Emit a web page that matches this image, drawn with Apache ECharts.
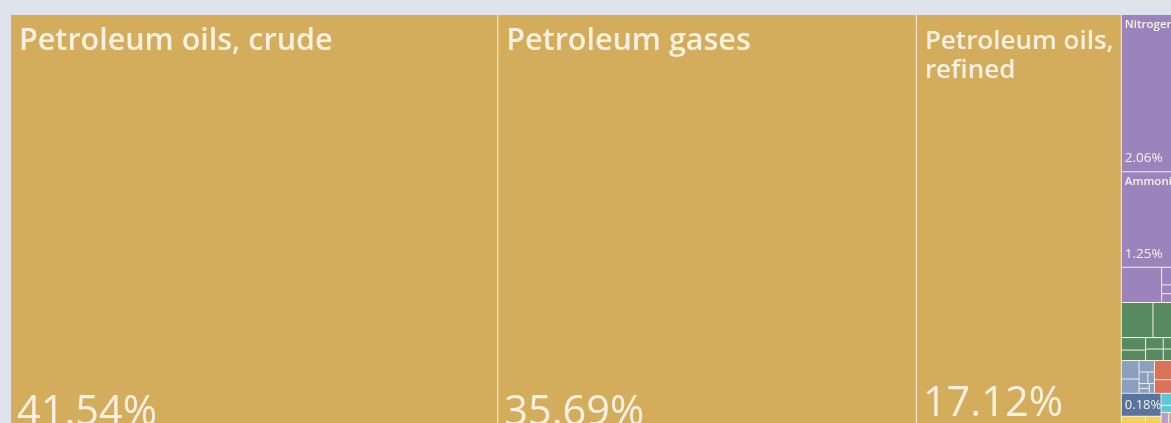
<!DOCTYPE html>
<html>
<head>
    <meta charset="utf-8"/>
    <title>Export treemap</title>
    <script src="https://cdn.jsdelivr.net/npm/echarts@6/dist/echarts.min.js"></script>
    <style>
        html, body { margin: 0; padding: 0; background: #dfe3ec; }
        #chart { width: 1171px; height: 423px; }
    </style>
</head>
<body>
<div id="chart"></div>
<script type="text/javascript">
    // share of total exports, %, by section
    const mineralNames = ['Petroleum oils, crude', 'Petroleum gases', 'Petroleum oils, refined'];
    const mineralValues = [41.54, 35.69, 17.12, 0.2, 0.15];

    const chemicalNames = ['Nitrogenous fertilizers', 'Ammonia'];
    const chemicalValues = [2.06, 1.25, 0.28, 0.05, 0.04, 0.03, 0.03, 0.02, 0.01];

    const vegetableTopValues = [0.22, 0.24];
    const vegetableSmallValues = [0.06, 0.05, 0.04, 0.04, 0.03, 0.03, 0.02, 0.02, 0.01];
    const metalValues = [0.065, 0.05, 0.035, 0.02, 0.015, 0.01, 0.01, 0.01];
    const plasticValues = [0.07, 0.05, 0.035, 0.025, 0.02, 0.015];
    const machineValues = [0.18];
    const foodValues = [0.14, 0.05, 0.02, 0.01, 0.01];
    const transportValues = [0.05, 0.03, 0.02];
    const textileValues = [0.03, 0.02];
    const stoneValues = [0.06, 0.04, 0.023];

    const TEXT = '#f8f1e3';
    const FONT = '"Open Sans", sans-serif';
    const pctAlsoShown = ['Machines 1'];

    function named(prefix, values, names) {
        return values.map(function (v, i) {
            return {name: (names && names[i]) || prefix + ' ' + (i + 1), value: v};
        });
    }

    const sections = [
        {name: 'Mineral products', color: '#d3ad5b', children: named('Minerals', mineralValues, mineralNames)},
        {name: 'Chemical products', color: '#9b84bc', children: named('Chemicals', chemicalValues, chemicalNames)},
        {name: 'Vegetable products', color: '#578a60',
            children: [
                {name: 'Fruits', children: named('Fruits', vegetableTopValues)},
                {name: 'Other vegetable', children: named('Vegetables', vegetableSmallValues)}
            ]},
        {name: 'Metals', color: '#8b9fc1', children: named('Metals', metalValues)},
        {name: 'Plastics and rubbers', color: '#d9725a', children: named('Plastics', plasticValues)},
        {name: 'Machines', color: '#56749d', children: named('Machines', machineValues)},
        {name: 'Foodstuffs', color: '#f6cf57', children: named('Foodstuffs', foodValues)},
        {name: 'Transportation', color: '#5fc6d5', children: named('Transport', transportValues)},
        {name: 'Textiles', color: '#b19fd4', children: named('Textiles', textileValues)},
        {name: 'Stone and glass', color: '#c4ad86', children: named('Stone', stoneValues)}
    ];

    function leafLabel(kind, node) {
        const v = node.value;
        if (kind === 'name') {
            if (v >= 30) return {show: true, fontSize: 30.5, lineHeight: 29, padding: [12, 1, 0, 8], overflow: 'break'};
            if (v >= 10) return {show: true, fontSize: 26, lineHeight: 29, padding: [12, 0, 0, 8], overflow: 'break'};
            if (v >= 1) return {show: true, fontSize: 11.5, lineHeight: 13, padding: [3, 1, 0, 3], overflow: 'truncate', ellipsis: ' '};
            return {show: false};
        }
        if (v >= 10) return {show: true, fontSize: 41.5, lineHeight: 42, padding: [0, 0, 11, 6]};
        if (v >= 1) return {show: true, fontSize: 13.5, lineHeight: 14, padding: [0, 0, 6, 3]};
        if (pctAlsoShown.indexOf(node.name) >= 0) return {show: true, fontSize: 13, lineHeight: 14, padding: [0, 0, 3, 3]};
        return {show: false};
    }

    function build(nodes, kind, withColor) {
        return nodes.map(function (n) {
            const item = {name: n.name};
            if (withColor && n.color) item.itemStyle = {color: n.color};
            if (n.children) {
                item.children = build(n.children, kind, withColor);
            } else {
                item.value = n.value;
                item.label = leafLabel(kind, n);
            }
            return item;
        });
    }

    const box = {left: 11, top: 15, width: 1176, height: 430};

    function baseSeries() {
        return Object.assign({
            type: 'treemap',
            sort: false,
            squareRatio: 1.48,
            roam: false,
            nodeClick: false,
            silent: true,
            animation: false,
            breadcrumb: {show: false}
        }, box);
    }

    const chart = echarts.init(document.getElementById('chart'));
    chart.setOption({
        backgroundColor: '#dfe3ec',
        series: [
            Object.assign(baseSeries(), {
                itemStyle: {borderWidth: 0, gapWidth: 1, borderColor: '#f6efe0'},
                label: {
                    show: true, position: 'insideTopLeft', distance: 0,
                    color: TEXT, fontFamily: FONT, fontWeight: 600,
                    formatter: '{b}'
                },
                data: build(sections, 'name', true)
            }),
            Object.assign(baseSeries(), {
                itemStyle: {borderWidth: 0, gapWidth: 1, color: 'rgba(0,0,0,0)', borderColor: 'rgba(0,0,0,0)'},
                levels: [{itemStyle: {color: 'rgba(0,0,0,0)'}}],
                label: {
                    show: true, position: 'insideBottomLeft', distance: 0,
                    color: TEXT, fontFamily: FONT, fontWeight: 500, overflow: 'none',
                    formatter: function (p) { return p.value.toFixed(2) + '%'; }
                },
                data: build(sections, 'pct', false)
            })
        ]
    });
</script>
</body>
</html>
